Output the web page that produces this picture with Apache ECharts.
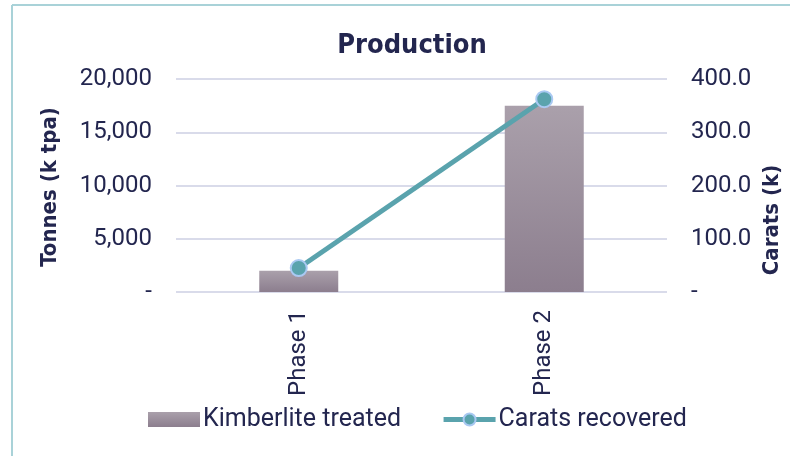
<!DOCTYPE html>
<html>
<head>
<meta charset="utf-8">
<script src="https://cdn.jsdelivr.net/npm/echarts@6/dist/echarts.min.js"></script>
<style>
  html, body { margin: 0; padding: 0; background: #ffffff; }
  #chart { width: 790px; height: 456px; }
</style>
</head>
<body>
<div id="chart"></div>
<script>
// Production by phase: tonnes treated (bars, left axis) and carats recovered (line, right axis)
const categories = ['Phase 1', 'Phase 2'];
const kimberliteTreated = [2000, 17500];   // k tpa
const caratsRecovered = [45, 362];         // k carats
const tonnesTicks = { min: 0, max: 20000, interval: 5000 };
const caratTicks = { min: 0, max: 400, interval: 100 };

const ink = '#23264f';
const font = 'Roboto';
const lineColor = '#5aa3ad';
const barGradient = () => new echarts.graphic.LinearGradient(0, 0, 0, 1, [
  { offset: 0, color: '#aaa0ab' },
  { offset: 1, color: '#8c7e8e' }
]);

const chart = echarts.init(document.getElementById('chart'));
chart.setOption({
  animation: false,
  backgroundColor: '#ffffff',
  title: {
    text: 'Production',
    left: 407,
    top: 27,
    textAlign: 'center',
    textStyle: { fontFamily: 'DejaVu Sans Condensed', fontWeight: 'bold', fontSize: 27, color: ink }
  },
  grid: { left: 176, right: 123, top: 79, bottom: 164, containLabel: false },
  legend: {
    bottom: 19,
    left: 143,
    itemWidth: 52,
    itemHeight: 15,
    itemGap: 40,
    textStyle: { fontFamily: font, fontSize: 25, color: ink, padding: [0, 0, 0, -2] },
    data: [
      { name: 'Kimberlite treated', icon: 'rect' },
      { name: 'Carats recovered', lineStyle: { width: 5, color: lineColor } }
    ]
  },
  xAxis: {
    type: 'category',
    data: categories,
    axisLine: { show: false },
    axisTick: { show: false },
    axisLabel: { rotate: 90, margin: 18, fontFamily: font, fontSize: 24, color: ink }
  },
  yAxis: [
    {
      type: 'value',
      min: tonnesTicks.min, max: tonnesTicks.max, interval: tonnesTicks.interval,
      axisLine: { show: false },
      axisTick: { show: false },
      splitLine: { lineStyle: { color: '#d9dbea', width: 2 } },
      axisLabel: {
        margin: 24, fontFamily: font, fontSize: 24, color: ink,
        formatter: v => v === 0 ? '-' : v.toLocaleString('en-US')
      }
    },
    {
      type: 'value',
      min: caratTicks.min, max: caratTicks.max, interval: caratTicks.interval,
      axisLine: { show: false },
      axisTick: { show: false },
      splitLine: { show: false },
      axisLabel: {
        margin: 24, fontFamily: font, fontSize: 24, color: ink,
        formatter: v => v === 0 ? '-' : v.toFixed(1)
      }
    }
  ],
  series: [
    {
      name: 'Kimberlite treated',
      type: 'bar',
      yAxisIndex: 0,
      data: kimberliteTreated,
      barWidth: 79,
      itemStyle: { color: barGradient() }
    },
    {
      name: 'Carats recovered',
      type: 'line',
      yAxisIndex: 1,
      data: caratsRecovered,
      symbol: 'circle',
      symbolSize: 16,
      lineStyle: { color: lineColor, width: 5 },
      itemStyle: { color: lineColor, borderColor: '#a9c9f2', borderWidth: 2 }
    }
  ],
  graphic: [
    { type: 'line', shape: { x1: 12, y1: 5, x2: 12, y2: 456 }, style: { stroke: '#a9d2d8', lineWidth: 2 } },
    { type: 'line', shape: { x1: 12, y1: 5, x2: 790, y2: 5 }, style: { stroke: '#a9d2d8', lineWidth: 2 } },
    {
      type: 'text', x: 50, y: 187, rotation: Math.PI / 2,
      style: { text: 'Tonnes (k tpa)', fontFamily: 'DejaVu Sans Condensed', fontWeight: 'bold', fontSize: 22, fill: ink, textAlign: 'center', textVerticalAlign: 'middle' }
    },
    {
      type: 'text', x: 772, y: 220, rotation: Math.PI / 2,
      style: { text: 'Carats (k)', fontFamily: 'DejaVu Sans Condensed', fontWeight: 'bold', fontSize: 22, fill: ink, textAlign: 'center', textVerticalAlign: 'middle' }
    }
  ]
});
</script>
</body>
</html>
